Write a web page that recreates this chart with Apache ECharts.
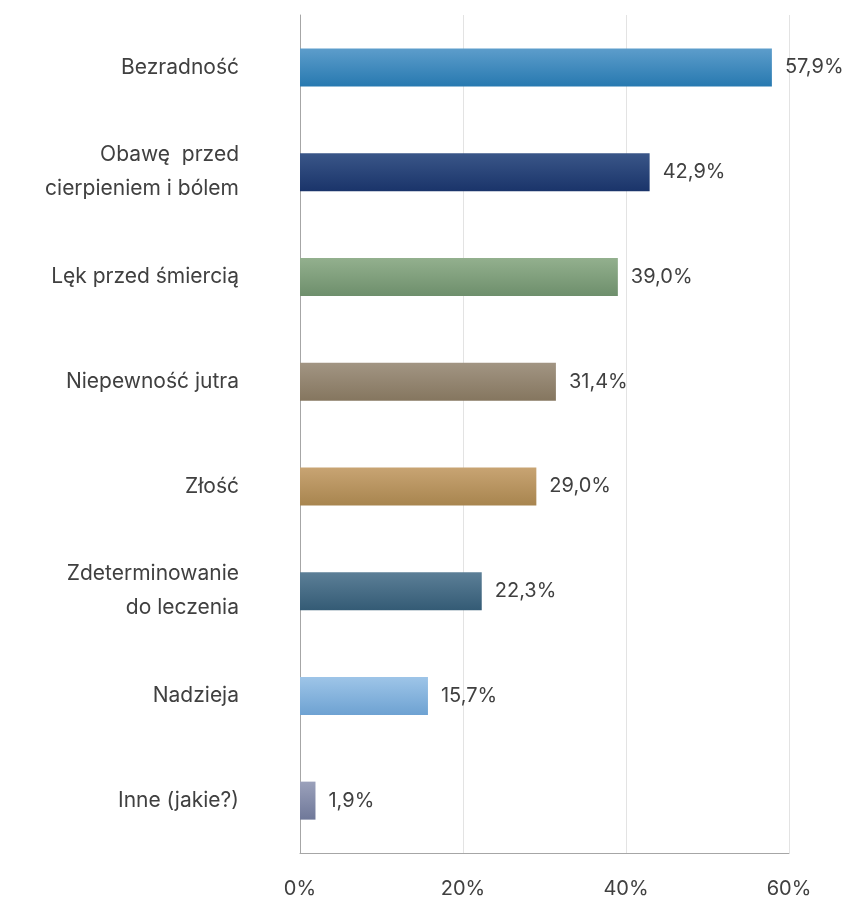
<!DOCTYPE html>
<html><head><meta charset="utf-8">
<script src="https://cdn.jsdelivr.net/npm/echarts@6/dist/echarts.min.js"></script>
<style>html,body{margin:0;padding:0;background:#fff}#c{width:848px;height:901px}</style>
</head><body><div id="c"></div>
<script>
const categories = ["Bezradność", "Obawę  przed\ncierpieniem i bólem", "Lęk przed śmiercią", "Niepewność jutra", "Złość", "Zdeterminowanie\ndo leczenia", "Nadzieja", "Inne (jakie?)"];
const values = [57.9, 42.9, 39.0, 31.4, 29.0, 22.3, 15.7, 1.9];
const tickLabels = ["0%", "20%", "40%", "60%"];
const colorsTop = ["#5d9dcb", "#3a5688", "#93b08e", "#a29583", "#c8a473", "#5c7f97", "#9ec5e8", "#9ba1bb"];
const colorsBottom = ["#2779b0", "#1a346a", "#6e8f6c", "#85765f", "#a8854f", "#345b75", "#6ea2d2", "#6f7899"];

const chart = echarts.init(document.getElementById('c'), null, {renderer: 'canvas'});
const fontFam = "Inter, 'Open Sans', sans-serif";
chart.setOption({
  animation: false,
  grid: {left: 300, right: 59, top: 15, bottom: 48, containLabel: false},
  xAxis: {
    type: 'value', min: 0, max: 60, interval: 20,
    axisLine: {show: true, lineStyle: {color: '#a6a6a6', width: 1}},
    axisTick: {show: false},
    splitLine: {show: true, lineStyle: {color: '#e3e3e3', width: 1}},
    axisLabel: {
      margin: 26, color: '#404040', fontSize: 20, fontFamily: fontFam,
      formatter: v => tickLabels[Math.round(v / 20)]
    }
  },
  yAxis: {
    type: 'category', data: categories, inverse: true,
    axisLine: {show: true, lineStyle: {color: '#a6a6a6', width: 1}},
    axisTick: {show: false},
    axisLabel: {margin: 61, color: '#404040', fontSize: 21, fontFamily: fontFam, lineHeight: 34, align: 'right'}
  },
  series: [{
    type: 'bar', barWidth: 38,
    data: values.map((v, i) => ({
      value: v,
      itemStyle: {color: new echarts.graphic.LinearGradient(0, 0, 0, 1, [
        {offset: 0, color: colorsTop[i]}, {offset: 1, color: colorsBottom[i]}])}
    })),
    label: {
      show: true, position: 'right', distance: 13, color: '#404040', fontSize: 20, fontFamily: fontFam,
      formatter: p => p.value.toFixed(1).replace('.', ',') + '%'
    }
  }]
});
</script></body></html>
